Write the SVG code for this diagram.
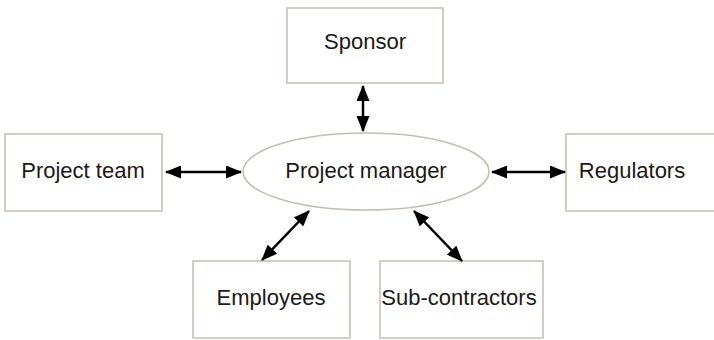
<svg xmlns="http://www.w3.org/2000/svg" width="714" height="340" viewBox="0 0 714 340">
<style>
.box{fill:#fff;stroke:#c4bdb5;stroke-width:1.5}
.lbl{font-family:"Liberation Sans",Arial,sans-serif;font-size:22px;fill:#1a1a1a;text-anchor:middle}
.conn{stroke:#000;stroke-width:2.5;fill:none;marker-start:url(#ah);marker-end:url(#ah)}
</style>
<defs>
<marker id="ah" viewBox="0 0 16 13" refX="15" refY="6.5" markerWidth="16" markerHeight="13" markerUnits="userSpaceOnUse" orient="auto-start-reverse">
<path d="M0,0 L16,6.5 L0,13 z" fill="#000"/>
</marker>
</defs>
<rect width="714" height="340" fill="#fff"/>
<g id="sponsor"><rect class="box" x="287" y="8" width="156" height="75"/><text class="lbl" x="365" y="49">Sponsor</text></g>
<g id="project-manager"><ellipse cx="366" cy="171.5" rx="123" ry="38.5" fill="#fff" stroke="#c4bdb5" stroke-width="1.5"/><text class="lbl" x="366" y="178">Project manager</text></g>
<g id="project-team"><rect class="box" x="5" y="134" width="157" height="77"/><text class="lbl" x="83" y="178">Project team</text></g>
<g id="regulators"><rect class="box" x="566" y="134" width="157" height="77"/><text class="lbl" x="632" y="178">Regulators</text></g>
<g id="employees"><rect class="box" x="193" y="261" width="157" height="77"/><text class="lbl" x="271" y="305">Employees</text></g>
<g id="sub-contractors"><rect class="box" x="380" y="261" width="163" height="77"/><text class="lbl" x="459" y="305">Sub-contractors</text></g>
<g id="connectors">
<line class="conn" x1="363" y1="86" x2="363" y2="131"/>
<line class="conn" x1="166" y1="172" x2="241" y2="172"/>
<line class="conn" x1="492" y1="172" x2="565" y2="172"/>
<line class="conn" x1="262" y1="260" x2="309" y2="211"/>
<line class="conn" x1="414" y1="211" x2="462" y2="261"/>
</g>
</svg>
